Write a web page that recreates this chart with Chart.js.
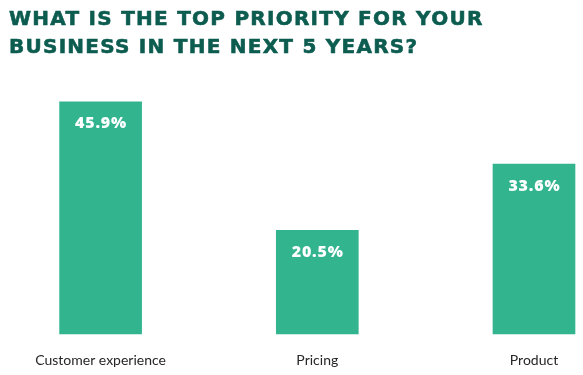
<!DOCTYPE html>
<html>
<head>
<meta charset="utf-8">
<script src="https://cdn.jsdelivr.net/npm/chart.js@4"></script>
<style>
html,body{margin:0;padding:0;background:#fff;}
#wrap{width:583px;height:375px;position:relative;overflow:hidden;}
#title{position:absolute;left:9px;top:4px;margin:0;font-family:'DejaVu Sans';font-weight:bold;font-size:20px;line-height:28px;letter-spacing:1.25px;color:#0d5c50;-webkit-text-stroke:0.6px #0d5c50;white-space:nowrap;}
canvas{position:absolute;left:0;top:0;}
</style>
</head>
<body>
<div id="wrap">
<canvas id="c" width="583" height="375"></canvas>
<div id="title"></div>
</div>
<script>
const titleLines = ["WHAT IS THE TOP PRIORITY FOR YOUR", "BUSINESS IN THE NEXT 5 YEARS?"];
const categories = ["Customer experience", "Pricing", "Product"];
const values = [45.9, 20.5, 33.6];
const valueLabels = ["45.9%", "20.5%", "33.6%"];

const barColor = "#32b48f";

const titleEl = document.getElementById("title");
titleLines.forEach((line, i) => {
  if (i) titleEl.appendChild(document.createElement("br"));
  titleEl.appendChild(document.createTextNode(line));
});

const valueLabelPlugin = {
  id: "valueLabels",
  afterDatasetsDraw(chart) {
    const ctx = chart.ctx;
    const meta = chart.getDatasetMeta(0);
    ctx.save();
    ctx.font = "800 16px 'Open Sans'";
    if ("letterSpacing" in ctx) ctx.letterSpacing = "0.8px";
    ctx.fillStyle = "#ffffff";
    ctx.textAlign = "center";
    ctx.textBaseline = "middle";
    meta.data.forEach((bar, i) => {
      ctx.fillText(valueLabels[i], bar.x + 0.4, bar.y + 22);
    });
    ctx.restore();
  }
};

new Chart(document.getElementById("c"), {
  type: "bar",
  data: {
    labels: categories,
    datasets: [{
      data: values,
      backgroundColor: barColor,
      borderWidth: 0,
      barThickness: 82,
      clip: false
    }]
  },
  options: {
    responsive: false,
    animation: false,
    layout: { padding: { left: 9, right: 49, top: 81, bottom: 0 } },
    plugins: {
      legend: { display: false },
      tooltip: { enabled: false },
      title: { display: false }
    },
    scales: {
      x: {
        offset: false,
        grid: { display: false, drawTicks: false },
        border: { display: false },
        ticks: {
          color: "#262626",
          font: { family: "Lato", size: 14 },
          padding: 18,
          maxRotation: 0,
          autoSkip: false
        },
        afterFit(scale) { scale.height = 41; }
      },
      y: {
        min: 0,
        max: 50,
        grid: { display: false, drawTicks: false },
        border: { display: false },
        ticks: { display: false },
        afterFit(scale) { scale.width = 91.6; }
      }
    }
  },
  plugins: [valueLabelPlugin]
});
</script>
</body>
</html>
